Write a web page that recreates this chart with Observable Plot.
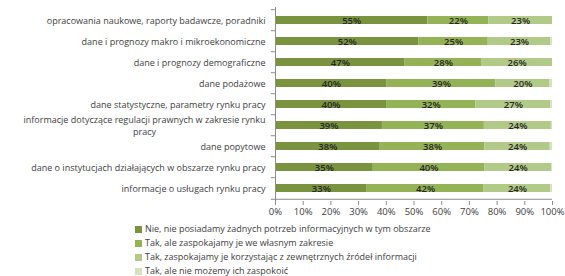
<!DOCTYPE html>
<html>
<head>
<meta charset="utf-8">
<script src="https://cdn.jsdelivr.net/npm/d3@7"></script>
<script src="https://cdn.jsdelivr.net/npm/@observablehq/plot@0.6"></script>
<style>
  body { margin: 0; background: #fff; font-family: "Open Sans", sans-serif; }
  #chart svg { display: block; }
  #legend { padding-left: 135px; font-size: 9px; color: #404040; }
  #legend .item { height: 14px; line-height: 14px; white-space: nowrap; }
  #legend .sw { display: inline-block; width: 7px; height: 7px; margin-right: 3px; vertical-align: -0.5px; }
</style>
</head>
<body>
<div id="chart"></div>
<div id="legend"></div>
<script>
const categories = [
  "opracowania naukowe, raporty badawcze, poradniki",
  "dane i prognozy makro i mikroekonomiczne",
  "dane i prognozy demograficzne",
  "dane podażowe",
  "dane statystyczne, parametry rynku pracy",
  "informacje dotyczące regulacji prawnych w zakresie rynku pracy",
  "dane popytowe",
  "dane o instytucjach działających w obszarze rynku pracy",
  "informacje o usługach rynku pracy"
];
const seriesNames = [
  "Nie, nie posiadamy żadnych potrzeb informacyjnych w tym obszarze",
  "Tak, ale zaspokajamy je we własnym zakresie",
  "Tak, zaspokajamy je korzystając z zewnętrznych źródeł informacji",
  "Tak, ale nie możemy ich zaspokoić"
];
const nie      = [55.0, 51.8, 46.8, 40.3, 40.1, 38.6, 37.8, 35.3, 33.1];
const wlasne   = [22.0, 25.0, 27.6, 39.2, 32.2, 36.8, 37.8, 40.2, 42.2];
const zewn     = [23.0, 22.6, 25.6, 19.6, 27.1, 24.2, 23.6, 24.2, 24.1];
const nieMozemy= [0.0,  0.6,  0.0,  0.9,  0.6,  0.4,  0.8,  0.3,  0.6];
const xTicks = [0, 10, 20, 30, 40, 50, 60, 70, 80, 90, 100];
const colors = ["#79933f", "#94b256", "#b1ca88", "#d5e2c0"];

const seriesValues = [nie, wlasne, zewn, nieMozemy];
const data = [];
categories.forEach((c, i) => {
  seriesValues.forEach((arr, s) => {
    data.push({category: c, series: seriesNames[s], value: arr[i], idx: s});
  });
});

const W = 565, H = 222, mTop = 7, mBottom = 21;
const step = (H - mTop - mBottom) / categories.length;
const font = "Open Sans, sans-serif";

function wrap(d) {
  if (d.length > 58) {
    const k = d.lastIndexOf(" ");
    return d.slice(0, k) + "\n" + d.slice(k + 1);
  }
  return d;
}

const chart = Plot.plot({
  width: W,
  height: H,
  marginLeft: 275,
  marginRight: 13,
  marginTop: mTop,
  marginBottom: mBottom,
  style: {fontFamily: font, fontSize: "9px", color: "#404040", background: "#fff"},
  x: {domain: [0, 100]},
  y: {domain: categories, paddingInner: 0.63, paddingOuter: 0.315},
  color: {domain: seriesNames, range: colors},
  marks: [
    Plot.barX(data, Plot.stackX({x: "value", y: "category", fill: "series", order: null})),
    Plot.text(data, Plot.stackX({
      x: "value", y: "category", order: null,
      text: d => d.idx < 3 ? Math.round(d.value) + "%" : null,
      fill: "#262626", fontSize: 9.5, fontWeight: 600
    })),
    Plot.ruleX([0], {stroke: "#8c8c8c"}),
    Plot.ruleY([categories[categories.length - 1]], {dy: step / 2, stroke: "#8c8c8c"}),
    Plot.ruleY(categories, {dy: -step / 2, x1: -1.5, x2: 0, stroke: "#8c8c8c", clip: false}),
    Plot.ruleY([categories[categories.length - 1]], {dy: step / 2, x1: -1.5, x2: 0, stroke: "#8c8c8c"}),
    Plot.axisX({ticks: xTicks, tickFormat: d => d + "%", tickSize: 4, tickPadding: 3, stroke: "#8c8c8c", fill: "#404040", fontSize: 9.5, label: null}),
    Plot.axisY({tickSize: 0, tickPadding: 10, tickFormat: wrap, fill: "#404040", fontSize: 9, label: null, lineHeight: 1.25})
  ]
});
document.getElementById("chart").appendChild(chart);

// center multi-line axis labels (as in the reference)
chart.querySelectorAll("text").forEach(t => {
  const spans = t.querySelectorAll("tspan");
  if (spans.length > 1) {
    const lens = Array.from(spans, s => s.getComputedTextLength());
    const w = Math.max(...lens);
    spans.forEach((s, i) => {
      const x0 = +(s.getAttribute("x") || 0);
      s.setAttribute("x", x0 - (w - lens[i]) / 2);
    });
  }
});

const legend = document.getElementById("legend");
seriesNames.forEach((n, i) => {
  const div = document.createElement("div");
  div.className = "item";
  const sw = document.createElement("span");
  sw.className = "sw";
  sw.style.background = colors[i];
  div.appendChild(sw);
  div.appendChild(document.createTextNode(n));
  legend.appendChild(div);
});
</script>
</body>
</html>
